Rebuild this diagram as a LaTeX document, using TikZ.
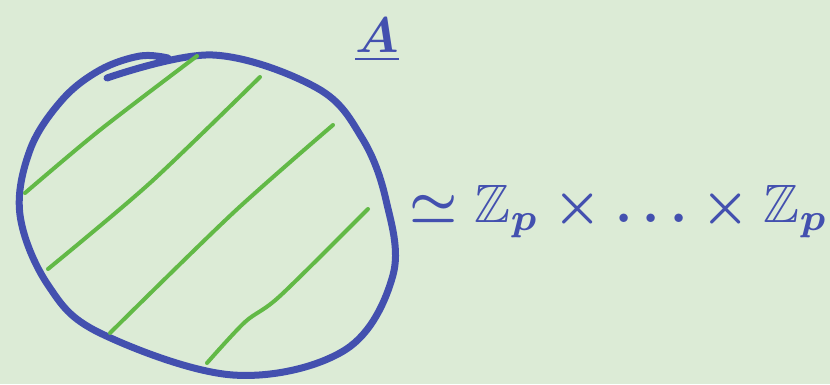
\documentclass[tikz,border=0pt]{standalone}
\usepackage{amsmath,amssymb}
\usepackage{tikz}
\definecolor{board}{HTML}{DCEBD6}
\definecolor{ink}{HTML}{4350AF}
\definecolor{chalk}{HTML}{62B946}

\begin{document}
\begin{tikzpicture}[x=1pt,y=-1pt,
  rim/.style={ink,line width=7pt,line cap=round,line join=round},
  hatch/.style={chalk,line width=4pt,line cap=round}]
  \fill[board] (0,0) rectangle (830,384);
  \useasboundingbox (0,0) rectangle (830,384);
  \draw[rim] plot[smooth,tension=0.6] coordinates {(107,78) (213,55)
    (317,88) (362,138) (386,200) (393,275) (345,350) (233,375) (100,333)
    (48,285) (20,215) (30,150) (62,100) (100,70) (140,56) (168,58)};
  \draw[hatch] plot[smooth] coordinates {(25,193) (100,130) (197,56)};
  \draw[hatch] plot[smooth] coordinates {(48,269) (150,183) (260,77)};
  \draw[hatch] plot[smooth] coordinates {(110,333) (233,213) (333,125)};
  \draw[hatch] plot[smooth] coordinates {(207,363) (245,322) (280,296) (368,209)};
  \node[ink,font=\boldmath,scale=5] (setA) at (377,40) {$\underline{A}$};
  \node[ink,font=\boldmath,scale=5.4,inner sep=0pt,anchor=west] (iso) at (408,212)
    {$\simeq\mathbb{Z}_p\times\ldots\times\mathbb{Z}_p$};
\end{tikzpicture}
\end{document}
